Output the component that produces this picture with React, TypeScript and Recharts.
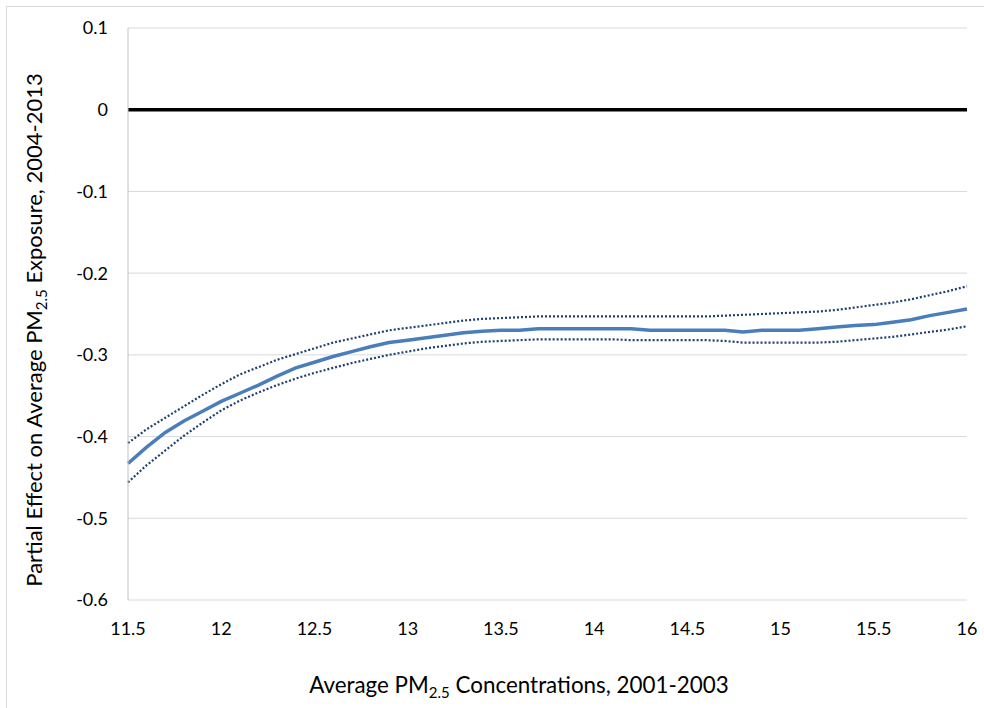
import React from "react";
import {
  LineChart,
  Line,
  XAxis,
  YAxis,
  CartesianGrid,
  ReferenceLine,
} from "recharts";

// PM2.5 concentration grid (2001-2003 average)
const concentrations = [
  11.5, 11.6, 11.7, 11.8, 11.9, 12.0, 12.1, 12.2, 12.3, 12.4,
  12.5, 12.6, 12.7, 12.8, 12.9, 13.0, 13.1, 13.2, 13.3, 13.4,
  13.5, 13.6, 13.7, 13.8, 13.9, 14.0, 14.1, 14.2, 14.3, 14.4,
  14.5, 14.6, 14.7, 14.8, 14.9, 15.0, 15.1, 15.2, 15.3, 15.4,
  15.5, 15.6, 15.7, 15.8, 15.9, 16.0,
];

// partial effect estimate
const effect = [
  -0.433, -0.413, -0.395, -0.381, -0.369, -0.357, -0.347, -0.337, -0.326, -0.316,
  -0.309, -0.302, -0.296, -0.29, -0.285, -0.282, -0.279, -0.276, -0.273, -0.271,
  -0.27, -0.27, -0.268, -0.268, -0.268, -0.268, -0.268, -0.268, -0.27, -0.27,
  -0.27, -0.27, -0.27, -0.272, -0.27, -0.27, -0.27, -0.268, -0.266, -0.264,
  -0.263, -0.26, -0.257, -0.252, -0.248, -0.244,
];

// confidence band
const upperBound = [
  -0.408, -0.391, -0.377, -0.363, -0.349, -0.336, -0.324, -0.315, -0.306, -0.299,
  -0.292, -0.285, -0.28, -0.275, -0.27, -0.267, -0.264, -0.261, -0.258, -0.256,
  -0.255, -0.254, -0.253, -0.253, -0.253, -0.253, -0.253, -0.253, -0.253, -0.253,
  -0.253, -0.253, -0.252, -0.251, -0.25, -0.249, -0.248, -0.247, -0.245, -0.242,
  -0.239, -0.236, -0.232, -0.227, -0.222, -0.216,
];

const lowerBound = [
  -0.456, -0.435, -0.417, -0.399, -0.383, -0.368, -0.356, -0.346, -0.337, -0.329,
  -0.322, -0.316, -0.31, -0.305, -0.3, -0.296, -0.292, -0.289, -0.286, -0.284,
  -0.283, -0.282, -0.281, -0.281, -0.281, -0.281, -0.281, -0.282, -0.282, -0.282,
  -0.282, -0.282, -0.283, -0.285, -0.285, -0.285, -0.285, -0.285, -0.284, -0.282,
  -0.28, -0.278, -0.275, -0.272, -0.269, -0.265,
];

const xTicks = [11.5, 12, 12.5, 13, 13.5, 14, 14.5, 15, 15.5, 16];
const yTicks = [-0.6, -0.5, -0.4, -0.3, -0.2, -0.1, 0, 0.1];

const data = concentrations.map((x, i) => ({
  x,
  effect: effect[i],
  upper: upperBound[i],
  lower: lowerBound[i],
}));

const FONT = "Lato, 'Noto Sans', sans-serif";

export default function App() {
  return (
    <div
      style={{
        position: "absolute",
        left: 0,
        top: 0,
        width: 984,
        height: 708,
        overflow: "hidden",
        background: "#fff",
        fontFamily: FONT,
      }}
    >
      <div
        style={{
          position: "absolute",
          left: 6,
          top: 6,
          width: 1200,
          height: 1200,
          border: "1px solid #d9d9d9",
        }}
      />
      <LineChart
        width={984}
        height={708}
        data={data}
        margin={{ top: 28, right: 17, bottom: 78, left: 0 }}
        style={{ position: "absolute", left: 0, top: 0 }}
      >
        <CartesianGrid vertical={false} stroke="#d9d9d9" strokeWidth={1} />
        <XAxis
          dataKey="x"
          type="number"
          domain={[11.5, 16]}
          ticks={xTicks}
          height={30}
          axisLine={false}
          tickLine={false}
          tickSize={0}
          tickMargin={22}
          tick={{ fontSize: 18, fill: "#000", fontFamily: FONT }}
        />
        <YAxis
          type="number"
          domain={[-0.6, 0.1]}
          ticks={yTicks}
          width={128}
          axisLine={{ stroke: "#bfbfbf" }}
          tickLine={false}
          tickSize={0}
          tickMargin={20}
          tickFormatter={(v) => (v === 0 ? "0" : String(Number(v.toFixed(1))))}
          tick={{ fontSize: 18, fill: "#000", fontFamily: FONT }}
        />
        <ReferenceLine y={0} stroke="#000" strokeWidth={3.5} />
        <Line
          dataKey="upper"
          stroke="#1f3f6e"
          strokeWidth={2.2}
          strokeDasharray="2 2"
          dot={false}
          isAnimationActive={false}
        />
        <Line
          dataKey="lower"
          stroke="#1f3f6e"
          strokeWidth={2.2}
          strokeDasharray="2 2"
          dot={false}
          isAnimationActive={false}
        />
        <Line
          dataKey="effect"
          stroke="#4a7ebb"
          strokeWidth={3.5}
          dot={false}
          isAnimationActive={false}
        />
      </LineChart>
      <svg
        width={984}
        height={708}
        style={{ position: "absolute", left: 0, top: 0, pointerEvents: "none" }}
      >
        <text
          x={519}
          y={693}
          textAnchor="middle"
          fontSize={22.4}
          fontFamily={FONT}
          fill="#000"
        >
          Average PM<tspan fontSize={15} dy={5}>2.5</tspan>
          <tspan dy={-5}> Concentrations, 2001-2003</tspan>
        </text>
        <text
          transform="translate(42,330) rotate(-90)"
          x={0}
          y={0}
          textAnchor="middle"
          fontSize={22}
          fontFamily={FONT}
          fill="#000"
        >
          Partial Effect on Average PM<tspan fontSize={15} dy={5}>2.5</tspan>
          <tspan dy={-5}> Exposure, 2004-2013</tspan>
        </text>
      </svg>
    </div>
  );
}
